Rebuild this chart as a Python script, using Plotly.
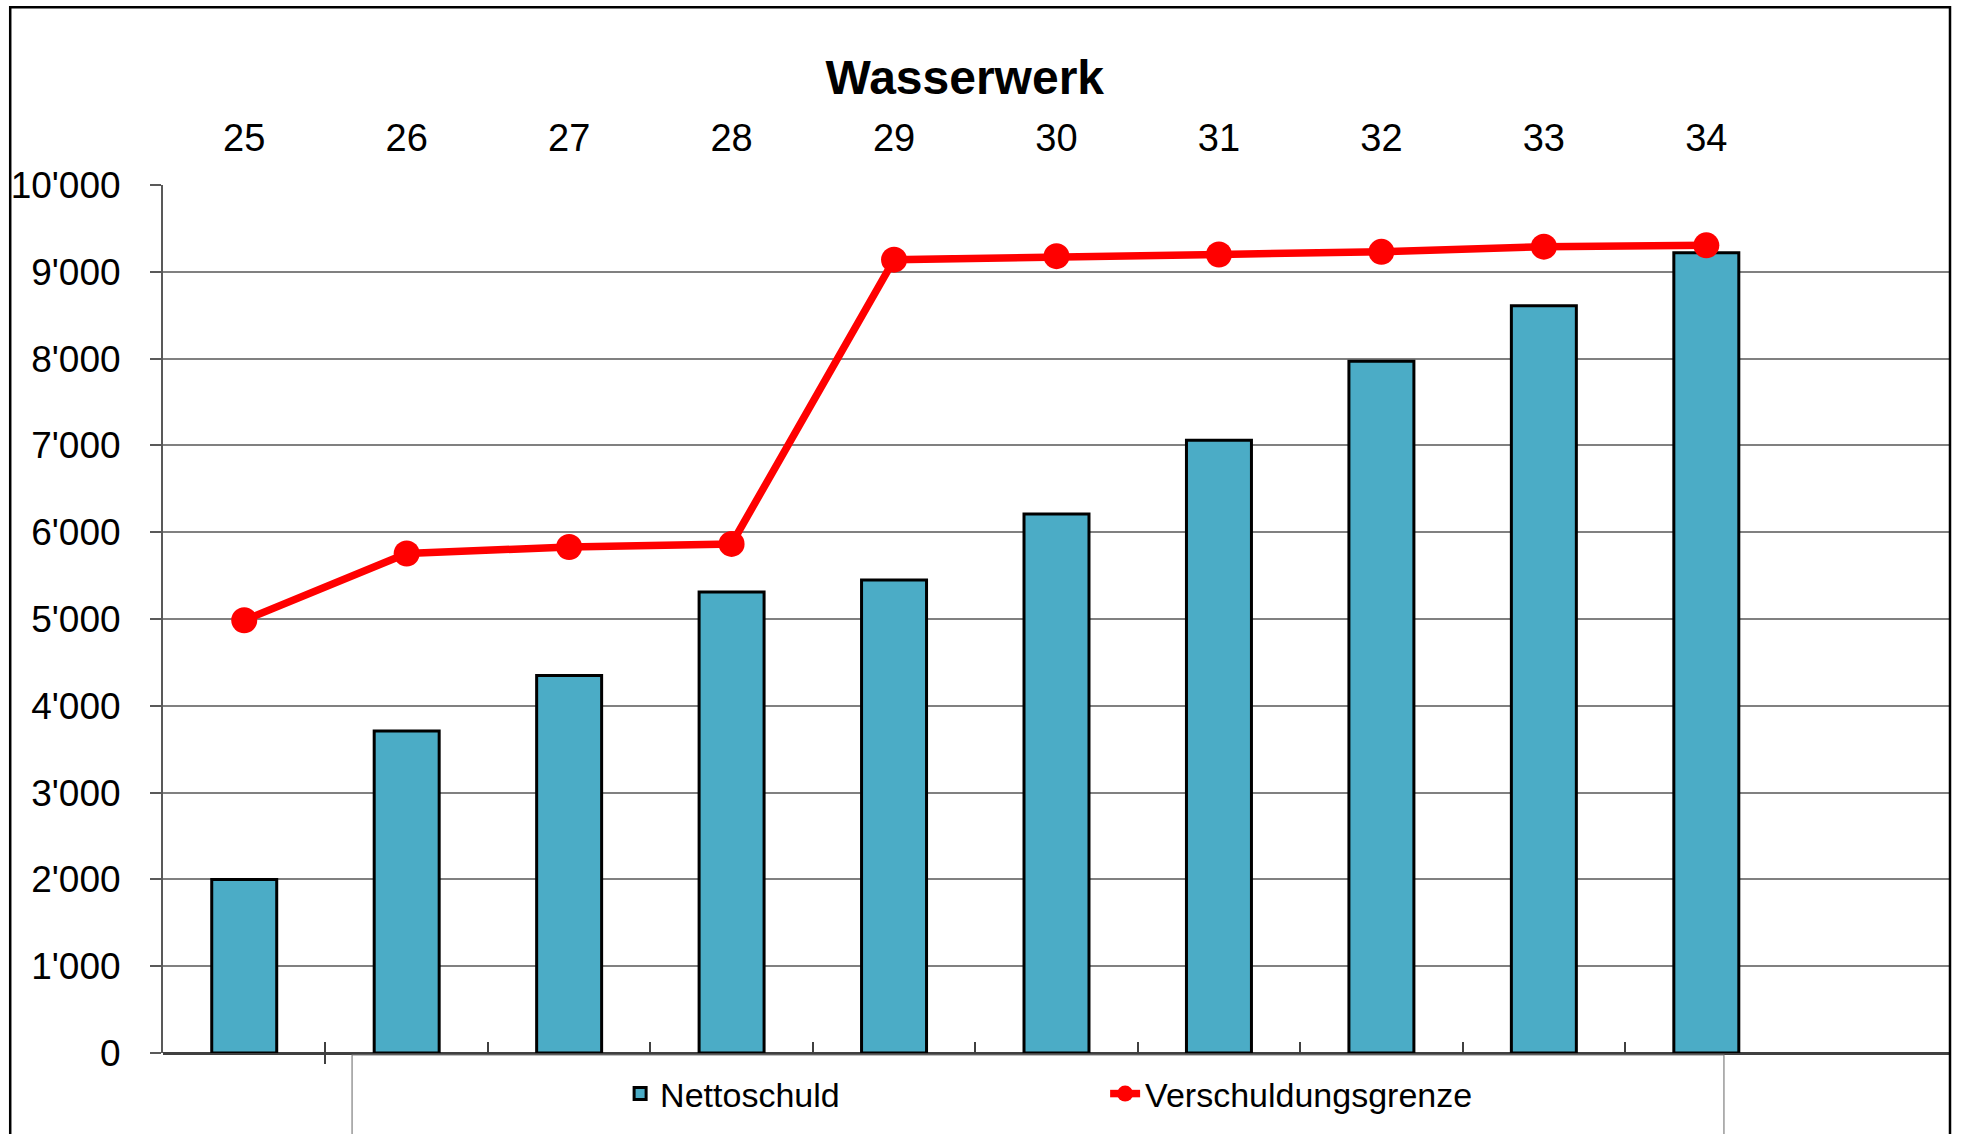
import plotly.graph_objects as go

categories = ["25", "26", "27", "28", "29", "30", "31", "32", "33", "34"]
nettoschuld = [2000, 3710, 4350, 5310, 5450, 6210, 7060, 7970, 8610, 9220]
verschuldungsgrenze = [4985, 5755, 5830, 5865, 9140, 9180, 9200, 9230, 9290, 9305]
y_ticks = [0, 1000, 2000, 3000, 4000, 5000, 6000, 7000, 8000, 9000, 10000]

FONT = "Liberation Sans, Arial, sans-serif"
positions = list(range(len(categories)))
boundaries = [p - 0.5 for p in positions]
x_range = [-0.5, len(categories) + 0.5]

TOP, BOTTOM = 185, 69          # margins in px
PAPER_H = 1134 - TOP - BOTTOM  # paper height in px
TICK_HALF = 11                 # crossing tick half length


def py(px_from_top):
    """paper y for a pixel row of the page"""
    return (1134 - BOTTOM - px_from_top) / PAPER_H


fig = go.Figure()
fig.add_trace(go.Bar(
    x=positions, y=nettoschuld, name="Nettoschuld",
    width=0.4, marker=dict(color="#4BACC6", line=dict(color="#000000", width=3)),
    xaxis="x", yaxis="y",
))
fig.add_trace(go.Scatter(
    x=positions, y=verschuldungsgrenze, name="Verschuldungsgrenze",
    mode="lines+markers", line=dict(color="#FF0000", width=7.5),
    marker=dict(color="#FF0000", size=26),
    xaxis="x2", yaxis="y",
))

fig.update_layout(
    width=1961, height=1134,
    margin=dict(l=161, r=11, t=TOP, b=BOTTOM),
    paper_bgcolor="white", plot_bgcolor="white",
    separators=".'",
    font=dict(family=FONT, size=38, color="#000000"),
    title=dict(text="<b>Wasserwerk</b>", x=0.492, xref="container", xanchor="center",
               y=1 - 77.5 / 1134, yref="container", yanchor="middle",
               font=dict(family=FONT, size=48, color="#000000")),
    showlegend=True,
    legend=dict(orientation="h", x=0.2558, xanchor="left", y=py(1095), yanchor="middle",
                font=dict(family=FONT, size=34, color="#000000"),
                bgcolor="rgba(0,0,0,0)", borderwidth=0, entrywidth=440, traceorder="normal"),
    xaxis=dict(range=x_range, side="top", tickmode="array", tickvals=positions, ticktext=categories,
               ticks="outside", ticklen=0, tickcolor="rgba(0,0,0,0)", ticklabelstandoff=18,
               showgrid=False, zeroline=False, showline=False, anchor="y",
               tickfont=dict(family=FONT, size=38, color="#000000")),
    xaxis2=dict(range=x_range, overlaying="x", side="bottom", anchor="free", position=0,
                tickmode="array", tickvals=boundaries, ticks="inside", ticklen=2 * TICK_HALF,
                tickwidth=1.5, tickcolor="#404040", showticklabels=False,
                showgrid=False, zeroline=False, showline=False),
    yaxis=dict(range=[0, 10000], domain=[TICK_HALF / PAPER_H, 1],
               tickmode="array", tickvals=y_ticks, tickformat=",d",
               ticks="outside", ticklen=11, tickwidth=2, tickcolor="#595959",
               showline=True, linecolor="#595959", linewidth=2,
               showgrid=True, gridcolor="#808080", gridwidth=2,
               zeroline=True, zerolinecolor="#404040", zerolinewidth=2.5,
               ticklabelstandoff=22,
               tickfont=dict(family=FONT, size=37, color="#000000")),
    shapes=[
        dict(type="rect", xref="paper", yref="paper", x0=0.1058, x1=0.8735, y0=-0.4, y1=py(1056),
             fillcolor="white", line=dict(color="#808080", width=1.2), layer="above"),
        dict(type="rect", xref="paper", yref="paper", x0=-0.0855, x1=1.0, y0=-0.4, y1=py(7),
             fillcolor="rgba(0,0,0,0)", line=dict(color="#000000", width=2.5), layer="above"),
    ],
)

fig.write_html("out.html", config={"displayModeBar": False},
               post_script="document.body.style.margin='0px';")
